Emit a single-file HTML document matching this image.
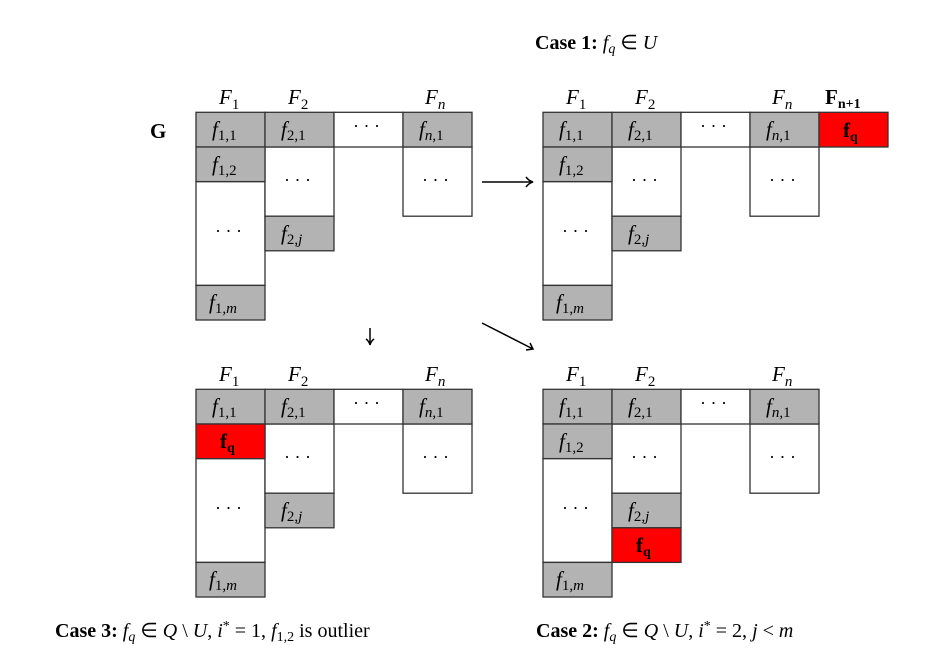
<!DOCTYPE html>
<html><head><meta charset="utf-8"><style>
html,body{margin:0;padding:0;background:#fff;}
svg{display:block;}
text{font-family:"Liberation Serif",serif;fill:#000;}
.m{font-style:italic;font-size:21px;}
.s{font-style:normal;font-size:15px;}
.si{font-style:italic;font-size:15px;}
.d{font-size:18px;}
.g{fill:#b3b3b3;stroke:#333;stroke-width:1.3;}
.w{fill:#fff;stroke:#333;stroke-width:1.3;}
.r{fill:#ff0000;stroke:#333;stroke-width:1.3;}
.b{font-weight:bold;font-size:21px;}
</style></head><body>
<svg width="935" height="659" viewBox="0 0 935 659" xmlns="http://www.w3.org/2000/svg">
<defs>
<g id="grid">
  <rect class="w" x="196" y="181.6" width="69" height="103.8"/>
  <rect class="g" x="196" y="285.4" width="69" height="34.6"/>
  <rect class="w" x="265" y="147" width="69" height="69.2"/>
  <rect class="g" x="265" y="216.2" width="69" height="34.6"/>
  <rect class="w" x="403" y="147" width="69" height="69.2"/>
  <rect class="g" x="196" y="112.3" width="69" height="34.7"/>
  <rect class="g" x="265" y="112.3" width="69" height="34.7"/>
  <rect class="w" x="334" y="112.3" width="69" height="34.7"/>
  <rect class="g" x="403" y="112.3" width="69" height="34.7"/>
  <text class="m" x="219" y="104">F<tspan class="s" dy="5">1</tspan></text>
  <text class="m" x="288" y="104">F<tspan class="s" dy="5">2</tspan></text>
  <text class="m" x="425" y="104">F<tspan class="si" dy="5">n</tspan></text>
  <text class="m" x="212" y="136">f<tspan class="s" dy="4">1,1</tspan></text>
  <text class="m" x="281" y="136">f<tspan class="s" dy="4">2,1</tspan></text>
  <text class="d" x="353" y="132">· · ·</text>
  <text class="m" x="419" y="136">f<tspan class="si" dy="4">n</tspan><tspan class="s">,1</tspan></text>
  <text class="d" x="284" y="186">· · ·</text>
  <text class="d" x="422" y="186">· · ·</text>
  <text class="d" x="215" y="237">· · ·</text>
  <text class="m" x="281" y="240">f<tspan class="s" dy="4">2,</tspan><tspan class="si">j</tspan></text>
  <text class="m" x="209" y="309">f<tspan class="s" dy="4">1,</tspan><tspan class="si">m</tspan></text>
</g>
<g id="f12">
  <rect class="g" x="196" y="147" width="69" height="34.6"/>
  <text class="m" x="212" y="171">f<tspan class="s" dy="4">1,2</tspan></text>
</g>
</defs>

<!-- top-left -->
<use href="#grid"/>
<use href="#f12"/>
<text class="b" x="150" y="138">G</text>

<!-- top-right: case 1 -->
<g transform="translate(347,0)">
  <use href="#grid"/>
  <use href="#f12"/>
  <rect class="r" x="472" y="112.3" width="69" height="34.7"/>
  <text class="b" x="496" y="137">f<tspan font-size="14" dy="4">q</tspan></text>
  <text class="b" x="478" y="104">F<tspan font-size="14" dy="4">n+1</tspan></text>
</g>
<text x="535" y="49" style="font-size:20px"><tspan font-weight="bold">Case 1:</tspan> <tspan font-style="italic">f</tspan><tspan font-style="italic" font-size="14" dy="4">q</tspan><tspan dy="-4"> ∈ </tspan><tspan font-style="italic">U</tspan></text>

<!-- bottom-left: case 3 -->
<g transform="translate(0,277)">
  <use href="#grid"/>
  <rect class="r" x="196" y="147" width="69" height="34.6"/>
  <text class="b" x="220" y="171">f<tspan font-size="14" dy="4">q</tspan></text>
</g>

<!-- bottom-right: case 2 -->
<g transform="translate(347,277)">
  <use href="#grid"/>
  <use href="#f12"/>
  <rect class="r" x="265" y="250.8" width="69" height="34.6"/>
  <text class="b" x="289" y="275">f<tspan font-size="14" dy="4">q</tspan></text>
</g>

<!-- arrows -->
<g stroke="#000" stroke-width="1.5" fill="none">
  <line x1="482" y1="182" x2="532" y2="182"/>
  <path d="M526 177 Q529 181 533 182 Q529 183 526 187"/>
  <line x1="370" y1="328" x2="370" y2="344"/>
  <path d="M366 339 Q369 341 370 345 Q371 341 374 339"/>
  <line x1="482" y1="323" x2="533" y2="349"/>
  <path d="M526 350 L533 349 L530 343"/>
</g>

<text x="55" y="637" style="font-size:20px"><tspan font-weight="bold">Case 3:</tspan> <tspan font-style="italic">f</tspan><tspan font-style="italic" font-size="14" dy="4">q</tspan><tspan dy="-4"> ∈ </tspan><tspan font-style="italic">Q</tspan> \ <tspan font-style="italic">U</tspan>,  <tspan font-style="italic">i</tspan><tspan font-size="14" dy="-7">*</tspan><tspan dy="7"> = 1,  </tspan><tspan font-style="italic">f</tspan><tspan font-size="14" dy="4">1,2</tspan><tspan dy="-4"> is outlier</tspan></text>
<text x="536" y="637" style="font-size:20px"><tspan font-weight="bold">Case 2:</tspan> <tspan font-style="italic">f</tspan><tspan font-style="italic" font-size="14" dy="4">q</tspan><tspan dy="-4"> ∈ </tspan><tspan font-style="italic">Q</tspan> \ <tspan font-style="italic">U</tspan>,  <tspan font-style="italic">i</tspan><tspan font-size="14" dy="-7">*</tspan><tspan dy="7"> = 2,  </tspan><tspan font-style="italic">j</tspan> &lt; <tspan font-style="italic">m</tspan></text>
</svg>
</body></html>
